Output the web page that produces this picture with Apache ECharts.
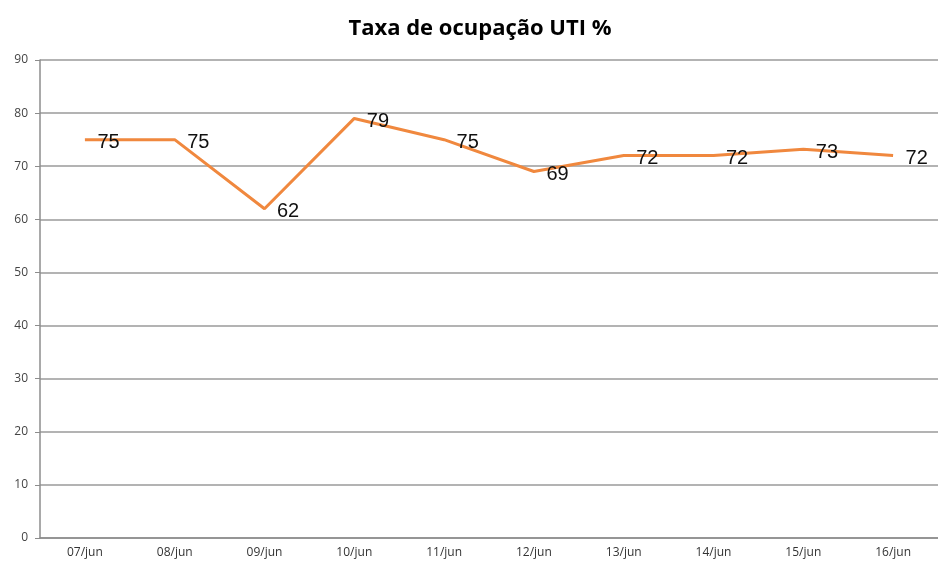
<!DOCTYPE html>
<html>
<head>
<meta charset="utf-8">
<script src="https://cdn.jsdelivr.net/npm/echarts@6/dist/echarts.min.js"></script>
<style>
  html, body { margin: 0; padding: 0; background: #fff; }
  #chart { width: 938px; height: 565px; }
</style>
</head>
<body>
<div id="chart"></div>
<script>
const days = ["07/jun", "08/jun", "09/jun", "10/jun", "11/jun", "12/jun", "13/jun", "14/jun", "15/jun", "16/jun"];
const occupancy = [75, 75, 62, 79, 75, 69, 72, 72, 73.2, 72];
const occupancyLabels = ["75", "75", "62", "79", "75", "69", "72", "72", "73", "72"];

const chart = echarts.init(document.getElementById("chart"));
chart.setOption({
  animation: false,
  title: {
    text: "Taxa de ocupação UTI %",
    left: 475,
    textAlign: "center",
    top: 13,
    textStyle: { fontFamily: "Open Sans", fontWeight: "bold", fontSize: 22, color: "#000" }
  },
  grid: { left: 40, right: -4, top: 60, bottom: 27 },
  xAxis: {
    type: "category",
    data: days,
    axisLine: { lineStyle: { color: "#8c8c8c", width: 1.5 } },
    axisTick: { lineStyle: { color: "#8c8c8c" }, length: 5 },
    axisLabel: { fontFamily: "Open Sans", fontSize: 12, color: "#333", margin: 9 }
  },
  yAxis: {
    type: "value",
    min: 0,
    max: 90,
    interval: 10,
    axisLine: { show: true, lineStyle: { color: "#8c8c8c", width: 1.5 } },
    axisTick: { show: true, lineStyle: { color: "#8c8c8c" }, length: 5 },
    axisLabel: { fontFamily: "Open Sans", fontSize: 12, color: "#444", margin: 12 },
    splitLine: { lineStyle: { color: "#9a9a9a", width: 1.5 } }
  },
  series: [{
    type: "line",
    data: occupancy,
    symbol: "circle",
    symbolSize: 1,
    showSymbol: true,
    itemStyle: { color: "rgba(0,0,0,0)" },
    lineStyle: { color: "#f0883e", width: 3 },
    label: {
      show: true,
      position: "right",
      distance: 12,
      offset: [0, 3],
      fontFamily: "Liberation Sans",
      fontSize: 20,
      color: "#111",
      formatter: p => occupancyLabels[p.dataIndex]
    }
  }]
});
</script>
</body>
</html>
